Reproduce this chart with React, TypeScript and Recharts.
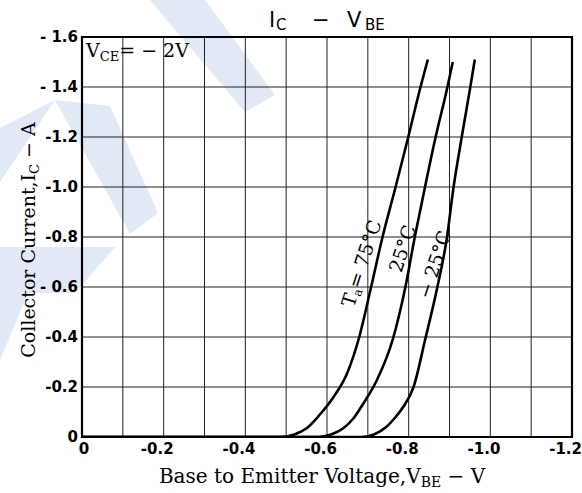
import React from 'react';
import { LineChart, Line, XAxis, YAxis, CartesianGrid, ReferenceArea } from 'recharts';

// Base-emitter voltage (V) and collector current (A)
const vbe75 = [0, -0.49, -0.52, -0.55, -0.58, -0.616, -0.648, -0.679, -0.708, -0.736, -0.768, -0.799, -0.829, -0.847];
const ic75 = [0, 0, -0.01, -0.035, -0.085, -0.16, -0.25, -0.4, -0.6, -0.8, -1.0, -1.2, -1.4, -1.51];

const vbe25 = [0, -0.58, -0.61, -0.64, -0.665, -0.689, -0.722, -0.761, -0.792, -0.815, -0.84, -0.866, -0.895, -0.908];
const ic25 = [0, 0, -0.01, -0.035, -0.075, -0.134, -0.227, -0.39, -0.6, -0.8, -1.0, -1.2, -1.4, -1.5];

const vbeM25 = [0, -0.685, -0.715, -0.745, -0.768, -0.787, -0.812, -0.84, -0.869, -0.893, -0.91, -0.93, -0.951, -0.962];
const icM25 = [0, 0, -0.01, -0.04, -0.08, -0.121, -0.2, -0.387, -0.59, -0.79, -1.0, -1.2, -1.4, -1.51];

const xGrid = [0, -0.1, -0.2, -0.3, -0.4, -0.5, -0.6, -0.7, -0.8, -0.9, -1.0, -1.1, -1.2];
const xLabels = ['0', '', '-0.2', '', '-0.4', '', '-0.6', '', '-0.8', '', '-1.0', '', '-1.2'];
const yGrid = [0, -0.2, -0.4, -0.6, -0.8, -1.0, -1.2, -1.4, -1.6];
const yLabels = ['0', '-0.2', '-0.4', '- 0.6', '-0.8', '-1.0', '-1.2', '- 1.4', '- 1.6'];

const toPoints = (v: number[], i: number[]) => v.map((x, k) => ({ v: x, i: i[k] }));
const curve75 = toPoints(vbe75, ic75);
const curve25 = toPoints(vbe25, ic25);
const curveM25 = toPoints(vbeM25, icM25);

const tickFont = { fill: '#000', fontSize: 15, fontWeight: 600, fontFamily: 'DejaVu Sans, sans-serif' };
const serif = 'DejaVu Serif, serif';
const mark = '#e1e8f6';

// x labels sit with the digits under the grid line, minus sign hanging left
const XTick = (props: any) => {
  const { x, y, payload } = props;
  const label = xLabels[xGrid.indexOf(payload.value)] ?? '';
  if (!label) return null;
  const zero = label === '0';
  return (
    <text x={zero ? x + 2 : x + 10} y={y} dy="0.71em" textAnchor={zero ? 'middle' : 'end'} {...tickFont}>
      {label}
    </text>
  );
};

export default function App() {
  return (
    <div style={{ position: 'absolute', left: 0, top: 0, width: 582, height: 493, background: '#fff' }}>
      {/* faint watermark behind the chart */}
      <svg width={582} height={493} style={{ position: 'absolute', left: 0, top: 0 }}>
        <polygon points="150,0 205,0 275,95 245,112" fill={mark} />
        <polygon points="55,100 110,106 158,213 130,234" fill={mark} />
        <polygon points="0,128 55,100 0,182" fill={mark} />
        <polygon points="0,247 115,247 75,293 0,293" fill={mark} />
        <polygon points="0,293 28,293 0,360" fill={mark} />
      </svg>

      <div style={{ position: 'absolute', left: 0, top: 0 }}>
        <LineChart width={582} height={493} margin={{ top: 37, right: 10, bottom: 0, left: 22 }}>
          <CartesianGrid stroke="#222" strokeWidth={1} />
          <XAxis
            type="number"
            dataKey="v"
            domain={[-1.2, 0]}
            reversed
            ticks={xGrid}
            interval={0}
            tick={<XTick />}
            tickLine={false}
            tickSize={6}
            tickMargin={0}
            axisLine={false}
            height={56}
            allowDataOverflow
          />
          <YAxis
            type="number"
            dataKey="i"
            domain={[-1.6, 0]}
            reversed
            ticks={yGrid}
            interval={0}
            tickFormatter={(t: number) => yLabels[yGrid.indexOf(t)] ?? ''}
            tick={tickFont}
            tickLine={false}
            tickSize={2}
            tickMargin={2}
            axisLine={false}
            width={60}
            allowDataOverflow
          />
          <ReferenceArea x1={-1.2} x2={0} y1={-1.6} y2={0} fill="none" stroke="#000" strokeWidth={2.2} ifOverflow="visible" />
          <Line data={curve75} dataKey="i" type="monotone" stroke="#000" strokeWidth={2.6} dot={false} isAnimationActive={false} />
          <Line data={curve25} dataKey="i" type="monotone" stroke="#000" strokeWidth={2.6} dot={false} isAnimationActive={false} />
          <Line data={curveM25} dataKey="i" type="monotone" stroke="#000" strokeWidth={2.6} dot={false} isAnimationActive={false} />
        </LineChart>
      </div>

      <svg width={582} height={493} style={{ position: 'absolute', left: 0, top: 0, pointerEvents: 'none' }}>
        {/* title */}
        <g fontFamily="DejaVu Sans, sans-serif" fill="#000">
          <text x={269} y={27} fontSize={21}>I</text>
          <text x={276} y={30} fontSize={15}>C</text>
          <text x={312} y={27} fontSize={21}>−</text>
          <text x={347} y={27} fontSize={21}>V</text>
          <text x={365} y={30} fontSize={15}>BE</text>
        </g>

        {/* test condition */}
        <text x={86} y={57} fontFamily={serif} fontSize={19} fill="#000">
          V<tspan fontSize={13} dy={4}>CE</tspan>
          <tspan dy={-4}>= − 2V</tspan>
        </text>

        {/* curve labels */}
        <text transform="translate(363,264) rotate(-72)" textAnchor="middle" dominantBaseline="middle" fontFamily={serif} fontSize={19} fill="#000">
          T<tspan fontSize={12} dy={4}>a</tspan>
          <tspan dy={-4}>= 75°C</tspan>
        </text>
        <text transform="translate(404,249) rotate(-72)" textAnchor="middle" dominantBaseline="middle" fontFamily={serif} fontSize={19} fill="#000">
          25°C
        </text>
        <text transform="translate(436,265) rotate(-72)" textAnchor="middle" dominantBaseline="middle" fontFamily={serif} fontSize={19} fill="#000">
          − 25°C
        </text>

        {/* axis titles */}
        <text transform="translate(35,240) rotate(-90)" textAnchor="middle" fontFamily={serif} fontSize={19} fill="#000">
          Collector Current,I<tspan fontSize={13} dy={4}>C</tspan>
          <tspan dy={-4}> − A</tspan>
        </text>
        <text x={322} y={483} textAnchor="middle" fontFamily={serif} fontSize={20} fill="#000">
          Base to Emitter Voltage,V<tspan fontSize={14} dy={4}>BE</tspan>
          <tspan dy={-4}> − V</tspan>
        </text>
      </svg>
    </div>
  );
}
